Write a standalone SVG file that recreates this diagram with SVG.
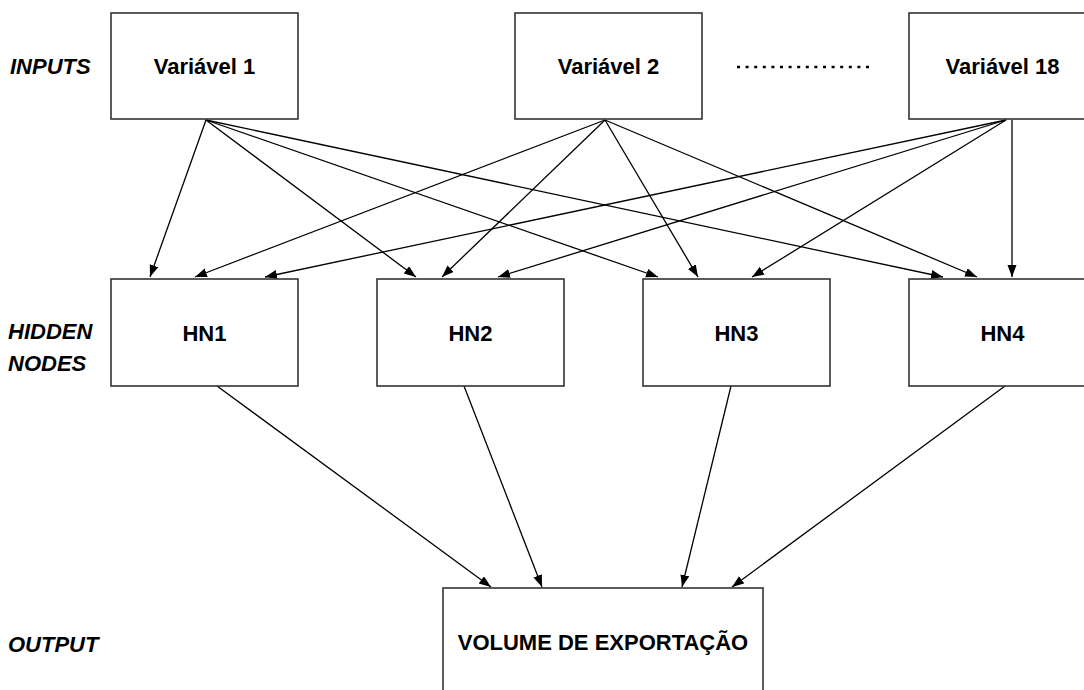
<svg xmlns="http://www.w3.org/2000/svg" width="1084" height="690" viewBox="0 0 1084 690">
  <style>
    .box { fill: #ffffff; stroke: #333333; stroke-width: 1.6; }
    .lbl { font-family: "Liberation Sans", Arial, sans-serif; font-weight: bold; font-size: 22px; fill: #000000; text-anchor: middle; }
    .layer { font-family: "Liberation Sans", Arial, sans-serif; font-weight: bold; font-style: italic; font-size: 22px; fill: #000000; }
    .edge { stroke: #000000; stroke-width: 1.3; fill: none; marker-end: url(#arrow); }
  </style>
  <defs>
    <marker id="arrow" markerUnits="userSpaceOnUse" markerWidth="13" markerHeight="10" refX="12" refY="4.5" orient="auto">
      <path d="M0,0 L12,4.5 L0,9 z" fill="#000000"/>
    </marker>
  </defs>

  <rect width="1084" height="690" fill="#ffffff"/>

  <!-- layer captions -->
  <g id="layer-labels">
    <text class="layer" x="10" y="74">INPUTS</text>
    <text class="layer" x="8" y="339">HIDDEN</text>
    <text class="layer" x="8" y="371">NODES</text>
    <text class="layer" x="8" y="652">OUTPUT</text>
  </g>

  <!-- connectors -->
  <g id="connectors">
    <!-- Variável 1 -->
    <line class="edge" x1="206" y1="120" x2="150" y2="277"/>
    <line class="edge" x1="206" y1="120" x2="416" y2="277"/>
    <line class="edge" x1="206" y1="120" x2="658" y2="277"/>
    <line class="edge" x1="206" y1="120" x2="943" y2="277"/>
    <!-- Variável 2 -->
    <line class="edge" x1="605" y1="120" x2="195" y2="277"/>
    <line class="edge" x1="605" y1="120" x2="442" y2="277"/>
    <line class="edge" x1="605" y1="120" x2="698" y2="277"/>
    <line class="edge" x1="605" y1="120" x2="977" y2="277"/>
    <!-- Variável 18 -->
    <line class="edge" x1="1006" y1="120" x2="265" y2="277"/>
    <line class="edge" x1="1006" y1="120" x2="498" y2="277"/>
    <line class="edge" x1="1006" y1="120" x2="752" y2="277"/>
    <line class="edge" x1="1012" y1="120" x2="1012" y2="277"/>
    <!-- hidden nodes to output -->
    <line class="edge" x1="217" y1="386" x2="491" y2="587"/>
    <line class="edge" x1="464" y1="386" x2="542" y2="587"/>
    <line class="edge" x1="731" y1="386" x2="682" y2="587"/>
    <line class="edge" x1="1005" y1="386" x2="732" y2="587"/>
  </g>

  <!-- input nodes -->
  <g id="var1">
    <rect class="box" x="111" y="13" width="187" height="106"/>
    <text class="lbl" x="204.5" y="74">Variável 1</text>
  </g>
  <g id="var2">
    <rect class="box" x="515" y="13" width="187" height="106"/>
    <text class="lbl" x="608.5" y="74">Variável 2</text>
  </g>
  <g id="ellipsis">
    <line x1="737" y1="67" x2="874" y2="67" stroke="#000000" stroke-width="2.6" stroke-dasharray="3 5.6"/>
  </g>
  <g id="var18">
    <rect class="box" x="909" y="13" width="187" height="106"/>
    <text class="lbl" x="1002.5" y="74">Variável 18</text>
  </g>

  <!-- hidden nodes -->
  <g id="hn1">
    <rect class="box" x="111" y="279" width="187" height="107"/>
    <text class="lbl" x="204.5" y="341">HN1</text>
  </g>
  <g id="hn2">
    <rect class="box" x="377" y="279" width="187" height="107"/>
    <text class="lbl" x="470.5" y="341">HN2</text>
  </g>
  <g id="hn3">
    <rect class="box" x="643" y="279" width="187" height="107"/>
    <text class="lbl" x="736.5" y="341">HN3</text>
  </g>
  <g id="hn4">
    <rect class="box" x="909" y="279" width="187" height="107"/>
    <text class="lbl" x="1002.5" y="341">HN4</text>
  </g>

  <!-- output node -->
  <g id="output">
    <rect class="box" x="443" y="588" width="320" height="120"/>
    <text class="lbl" x="603" y="650">VOLUME DE EXPORTAÇÃO</text>
  </g>
</svg>
